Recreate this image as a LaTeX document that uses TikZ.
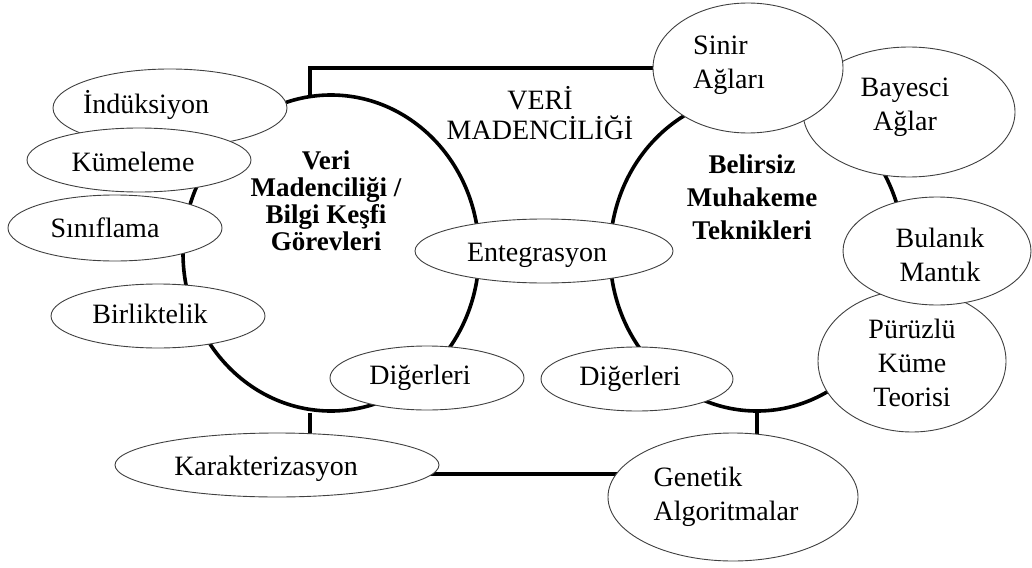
\documentclass[tikz,border=0pt]{standalone}
\usepackage{fontspec}
\setmainfont{Liberation Serif}
\newfontfamily\tnr{Liberation Serif}
\usetikzlibrary{shapes.geometric,backgrounds}
\begin{document}
\begin{tikzpicture}[x=1pt,y=-1pt,
  oval/.style={ellipse, draw=black!75, line width=0.9pt, fill=white, inner sep=0pt},
  txt/.style={font=\tnr\fontsize{28}{34}\selectfont, align=center, inner sep=0pt},
  ltxt/.style={font=\tnr\fontsize{28}{34}\selectfont, align=left, inner sep=0pt},
  btxt/.style={font=\tnr\fontsize{27}{33}\selectfont\bfseries, align=center, inner sep=0pt},
  ttxt/.style={font=\tnr\fontsize{28}{30}\selectfont, align=center, inner sep=0pt},
  bigring/.style={ellipse, draw=black, line width=3.6pt, inner sep=0pt},
  conn/.style={line width=3.6pt, black},
]
\useasboundingbox (0,0) rectangle (1032,567);

% small ellipses
\node[oval, minimum width=234pt, minimum height=78pt, label={[txt, xshift=-24pt, yshift=3pt]center:İndüksiyon}] (ind) at (170,108) {};
\node[oval, minimum width=224pt, minimum height=64pt, label={[txt, xshift=-6pt, yshift=-2pt]center:Kümeleme}] (kum) at (139,160) {};
\node[oval, minimum width=214pt, minimum height=66pt, label={[txt, xshift=-10pt]center:Sınıflama}] (sin) at (115,228) {};
\node[oval, minimum width=214pt, minimum height=64pt, label={[txt, xshift=-8pt, yshift=2pt]center:Birliktelik}] (bir) at (158,316) {};
\node[oval, minimum width=258pt, minimum height=64pt, label={[txt, xshift=-7pt, yshift=-4pt]center:Entegrasyon}] (ent) at (544,251) {};
\node[oval, minimum width=194pt, minimum height=64pt, label={[txt, xshift=-7pt]center:Diğerleri}] (dig1) at (427,378) {};
\node[oval, minimum width=192pt, minimum height=64pt, label={[txt, xshift=-7pt]center:Diğerleri}] (dig2) at (637,379) {};
\node[oval, minimum width=324pt, minimum height=64pt, label={[txt, xshift=-11pt, yshift=-4pt]center:Karakterizasyon}] (kar) at (277,465) {};
\node[oval, minimum width=250pt, minimum height=128pt, label={[ltxt, xshift=-7pt]center:Genetik\\Algoritmalar}] (gen) at (733,497) {};
\node[oval, minimum width=212pt, minimum height=130pt, label={[txt, xshift=-4pt, yshift=5pt]center:Bayesci\\Ağlar}] (bay) at (909,112) {};
\node[oval, minimum width=190pt, minimum height=130pt, label={[ltxt, xshift=-19pt, yshift=3pt]center:Sinir\\Ağları}] (snr) at (748,68) {};
\node[oval, minimum width=188pt, minimum height=142pt, label={[txt, yshift=-2pt]center:Pürüzlü\\Küme\\Teorisi}] (pur) at (912,361) {};
\node[oval, minimum width=188pt, minimum height=108pt, label={[txt, xshift=3pt, yshift=-4pt]center:Bulanık\\Mantık}] (bul) at (937,251) {};

% titles
\node[ttxt] (title) at (540,113) {VERİ\\MADENCİLİĞİ};
\node[btxt, font=\tnr\fontsize{27}{27}\selectfont\bfseries] (vmb) at (326,201) {Veri\\Madenciliği /\\Bilgi Keşfi\\Görevleri};
\node[btxt] (bmt) at (752,197) {Belirsiz\\Muhakeme\\Teknikleri};

\begin{pgfonlayer}{background}
  \fill[white] (0,0) rectangle (1032,567);
  \node[bigring, minimum width=296pt, minimum height=316pt] (L) at (331,253) {};
  \node[bigring, minimum width=294pt, minimum height=316pt] (R) at (757,253) {};
  \draw[conn] ([xshift=-21pt, yshift=-3pt]L.north) |- (snr.center);
  \draw[conn] ([xshift=-21pt]L.south) -- ([xshift=-21pt]L.south |- kar.center);
  \draw[conn] (R.south) -- (R.south |- gen.center);
  \draw[conn] ([yshift=-9pt]kar.center) -- ([yshift=-9pt]kar.center -| gen.center);
\end{pgfonlayer}
\end{tikzpicture}
\end{document}
